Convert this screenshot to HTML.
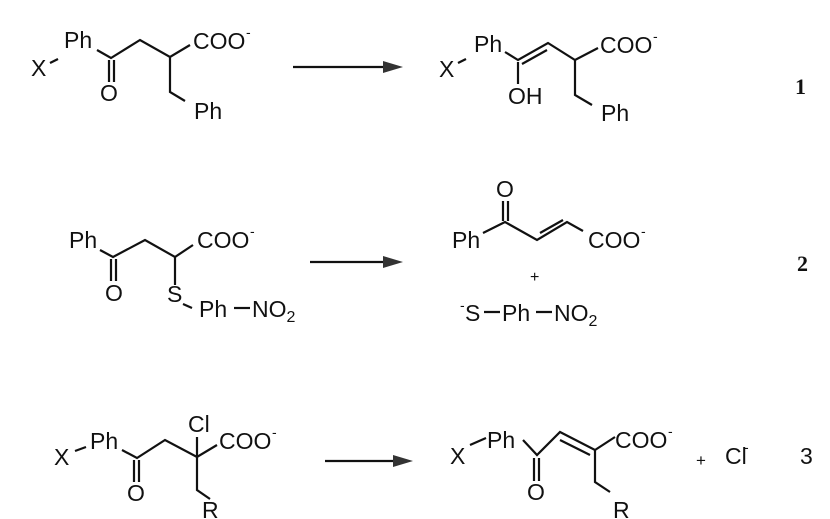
<!DOCTYPE html>
<html><head><meta charset="utf-8"><style>
html,body{margin:0;padding:0;background:#fff;}
svg{display:block;}
text{font-family:"Liberation Sans",sans-serif;font-size:23px;fill:#111;}
.s{font-size:14px;}
.b{font-family:"Liberation Serif",serif;font-weight:bold;font-size:22px;}
</style></head><body>
<svg width="830" height="519" viewBox="0 0 830 519" xmlns="http://www.w3.org/2000/svg">
<rect width="830" height="519" fill="#fff"/>
<g stroke="#111" stroke-width="2.2" fill="none">
<path d="M50,63 L58,59"/>
<path d="M97,50 L111,58 L140,40 L170,57 L190,45"/>
<path d="M109,60 L109,82 M114,60 L114,82"/>
<path d="M170,57 L170,92 L185,101"/>
<path d="M293,67 L385,67"/>
<path d="M458,63 L466,59"/>
<path d="M505,52 L518,60 L548,43 L575,60 L598,48"/>
<path d="M522,64 L547,50"/>
<path d="M518,62 L518,84"/>
<path d="M575,60 L575,95 L592,105"/>
<path d="M100,250 L113,257 L145,240 L175,257 L193,245"/>
<path d="M111,259 L111,281 M116,259 L116,281"/>
<path d="M175,257 L175,285"/>
<path d="M183,304 L192,308"/>
<path d="M234,308 L250,308"/>
<path d="M310,262 L385,262"/>
<path d="M483,233 L505,222 L537,240 L567,222 L583,231"/>
<path d="M503,221 L503,201 M508,221 L508,201"/>
<path d="M540,233 L563,220"/>
<path d="M484,312 L500,312 M536,312 L552,312"/>
<path d="M75,451 L86,447"/>
<path d="M122,450 L137,458 L165,440 L197,457 L217,445"/>
<path d="M134,460 L134,482 M139,460 L139,482"/>
<path d="M197,437 L197,490 L210,499"/>
<path d="M325,461 L395,461"/>
<path d="M470,445 L486,438"/>
<path d="M523,440 L537,455 L560,432 L595,450 L615,437"/>
<path d="M534,458 L534,481 M539,458 L539,481"/>
<path d="M560,440 L590,455"/>
<path d="M595,450 L595,482 L610,492"/>
</g>
<g fill="#333">
<polygon points="403,67 383,61 383,73"/>
<polygon points="403,262 383,256 383,268"/>
<polygon points="413,461 393,455 393,467"/>
</g>
<text x="31" y="76">X</text>
<text x="64" y="48">Ph</text>
<text x="100" y="101">O</text>
<text x="193" y="49">COO</text><text class="s" x="246" y="37">-</text>
<text x="194" y="119">Ph</text>
<text x="439" y="77">X</text>
<text x="474" y="52">Ph</text>
<text x="508" y="104">OH</text>
<text x="600" y="53">COO</text><text class="s" x="653" y="41">-</text>
<text x="601" y="121">Ph</text>
<text class="b" x="795" y="94">1</text>
<text x="69" y="248">Ph</text>
<text x="105" y="301">O</text>
<text x="197" y="248">COO</text><text class="s" x="250" y="236">-</text>
<text x="167" y="302">S</text>
<text x="199" y="317">Ph</text>
<text x="252" y="317">NO<tspan font-size="16" dy="5">2</tspan></text>
<text x="496" y="197">O</text>
<text x="452" y="248">Ph</text>
<text x="588" y="248">COO</text><text class="s" x="641" y="236">-</text>
<text x="530" y="282" style="font-size:16px">+</text>
<text class="s" x="460" y="310">-</text>
<text x="465" y="321">S</text>
<text x="502" y="321">Ph</text>
<text x="554" y="321">NO<tspan font-size="16" dy="5">2</tspan></text>
<text class="b" x="797" y="271">2</text>
<text x="54" y="465">X</text>
<text x="90" y="449">Ph</text>
<text x="127" y="501">O</text>
<text x="188" y="432">Cl</text>
<text x="219" y="449">COO</text><text class="s" x="272" y="437">-</text>
<text x="202" y="518">R</text>
<text x="450" y="464">X</text>
<text x="487" y="448">Ph</text>
<text x="527" y="500">O</text>
<text x="615" y="448">COO</text><text class="s" x="668" y="436">-</text>
<text x="613" y="518">R</text>
<text x="696" y="466" style="font-size:17px">+</text>
<text x="725" y="464">Cl</text><text class="s" x="744" y="452">-</text>
<text x="800" y="464">3</text>
</svg>
</body></html>
